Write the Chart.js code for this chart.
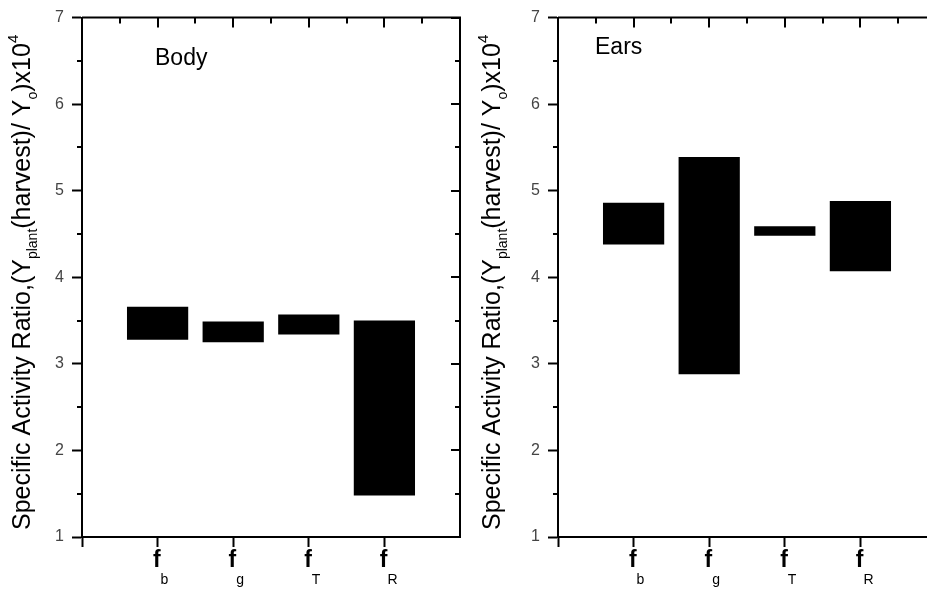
<!DOCTYPE html>
<html>
<head>
<meta charset="utf-8">
<script src="https://cdn.jsdelivr.net/npm/chart.js@4.4.1/dist/chart.umd.min.js"></script>
<style>
html, body { margin: 0; padding: 0; background: #fff; overflow: hidden; }
#wrap { position: relative; width: 927px; height: 592px; overflow: hidden; }
canvas { position: absolute; top: 0; }
#bodyChart { left: 0; }
#earsChart { left: 463px; }
</style>
</head>
<body>
<div id="wrap">
  <canvas id="bodyChart" width="463" height="592"></canvas>
  <canvas id="earsChart" width="480" height="592"></canvas>
</div>
<script>
// categories (empty slots at both ends give the padding seen on the x axis)
const categories = ['', 'f', 'f', 'f', 'f', ''];
const subscripts = ['', 'b', 'g', 'T', 'R', ''];

// floating bars: low / high of each range
const bodyLow  = [null, 3.28, 3.25, 3.34, 1.48, null];
const bodyHigh = [null, 3.66, 3.49, 3.57, 3.50, null];
const earsLow  = [null, 4.38, 2.88, 4.48, 4.07, null];
const earsHigh = [null, 4.86, 5.39, 4.59, 4.88, null];

const yMin = 1, yMax = 7;

const FONT = '"Liberation Sans", Arial, Helvetica, sans-serif';

function ranges(lo, hi) {
  return lo.map((v, i) => v == null ? null : [v, hi[i]]);
}

function drawYTitle(ctx, x, y) {
  const parts = [
    { t: 'Specific Activity Ratio,(Y', s: 25, d: 0 },
    { t: 'plant', s: 14, d: 7 },
    { t: '(harvest)/ Y', s: 25, d: 0 },
    { t: 'o', s: 14, d: 7 },
    { t: ')x10', s: 25, d: 0 },
    { t: '4', s: 15, d: -12 }
  ];
  ctx.save();
  ctx.translate(x, y);
  ctx.rotate(-Math.PI / 2);
  ctx.fillStyle = '#000';
  ctx.textAlign = 'left';
  ctx.textBaseline = 'alphabetic';
  let cx = 0;
  parts.forEach(p => {
    ctx.font = p.s + 'px ' + FONT;
    ctx.fillText(p.t, cx, p.d);
    cx += ctx.measureText(p.t).width;
  });
  ctx.restore();
}

// frame, minor ticks, subscripted category labels, panel name
const framePlugin = {
  id: 'frame',
  afterDraw(chart, args, opts) {
    const ctx = chart.ctx;
    const a = chart.chartArea;
    const x = chart.scales.x, y = chart.scales.y;
    ctx.save();
    ctx.strokeStyle = '#000';
    ctx.lineWidth = 2;
    ctx.beginPath();
    ctx.moveTo(a.left, a.top);
    ctx.lineTo(a.right, a.top);
    ctx.lineTo(a.right, a.bottom);
    ctx.stroke();

    ctx.beginPath();
    for (let i = 0.5; i < categories.length - 1; i += 0.5) {
      const px = Math.round(x.getPixelForValue(i));
      const len = Number.isInteger(i) ? 10 : 6;
      ctx.moveTo(px, a.top);
      ctx.lineTo(px, a.top + len);
    }
    for (let v = yMin; v <= yMax; v += 0.5) {
      const py = Math.round(y.getPixelForValue(v));
      const major = Number.isInteger(v);
      if (!major) {
        ctx.moveTo(a.left, py);
        ctx.lineTo(a.left - 5, py);
      }
      ctx.moveTo(a.right, py);
      ctx.lineTo(a.right - (major ? 9 : 5), py);
    }
    ctx.stroke();

    ctx.fillStyle = '#000';
    ctx.textBaseline = 'alphabetic';
    categories.forEach((c, i) => {
      if (!c) return;
      const px = x.getPixelForValue(i);
      ctx.font = 'bold 23px ' + FONT;
      ctx.textAlign = 'right';
      ctx.fillText(c, px + 3, 567);
      ctx.font = '14px ' + FONT;
      ctx.textAlign = 'left';
      ctx.fillText(subscripts[i], px + 3, 584);
    });

    ctx.font = '23px ' + FONT;
    ctx.textAlign = 'left';
    ctx.fillText(opts.name, opts.nameX, opts.nameY);

    drawYTitle(ctx, opts.titleX, 530);
    ctx.restore();
  }
};

function makeChart(id, low, high, axisW, padRight, opts) {
  return new Chart(document.getElementById(id), {
    type: 'bar',
    data: {
      labels: categories,
      datasets: [{
        data: ranges(low, high),
        backgroundColor: '#000',
        borderWidth: 0,
        borderSkipped: false,
        barPercentage: 0.81,
        categoryPercentage: 1
      }]
    },
    options: {
      responsive: false,
      animation: false,
      layout: { padding: { top: 16, right: padRight, left: 0, bottom: 0 } },
      plugins: {
        legend: { display: false },
        tooltip: { enabled: false },
        frame: opts
      },
      scales: {
        x: {
          type: 'category',
          offset: false,
          afterFit(s) { s.height = 55; },
          border: { color: '#000', width: 2 },
          grid: {
            drawOnChartArea: false,
            offset: false,
            tickLength: 10,
            tickWidth: 2,
            tickColor: c => c.index === categories.length - 1 ? 'rgba(0,0,0,0)' : '#000'
          },
          ticks: { display: false }
        },
        y: {
          min: yMin,
          max: yMax,
          afterFit(s) { s.width = axisW; },
          border: { color: '#000', width: 2 },
          grid: { drawOnChartArea: false, tickLength: 10, tickWidth: 2, tickColor: '#000' },
          ticks: { stepSize: 1, color: '#444', padding: 8, font: { family: FONT, size: 16 } }
        }
      }
    },
    plugins: [framePlugin]
  });
}

makeChart('bodyChart', bodyLow, bodyHigh, 82, 3, { name: 'Body', nameX: 155, nameY: 65, titleX: 30 });
makeChart('earsChart', earsLow, earsHigh, 95, 7, { name: 'Ears', nameX: 132, nameY: 54, titleX: 37 });
</script>
</body>
</html>
